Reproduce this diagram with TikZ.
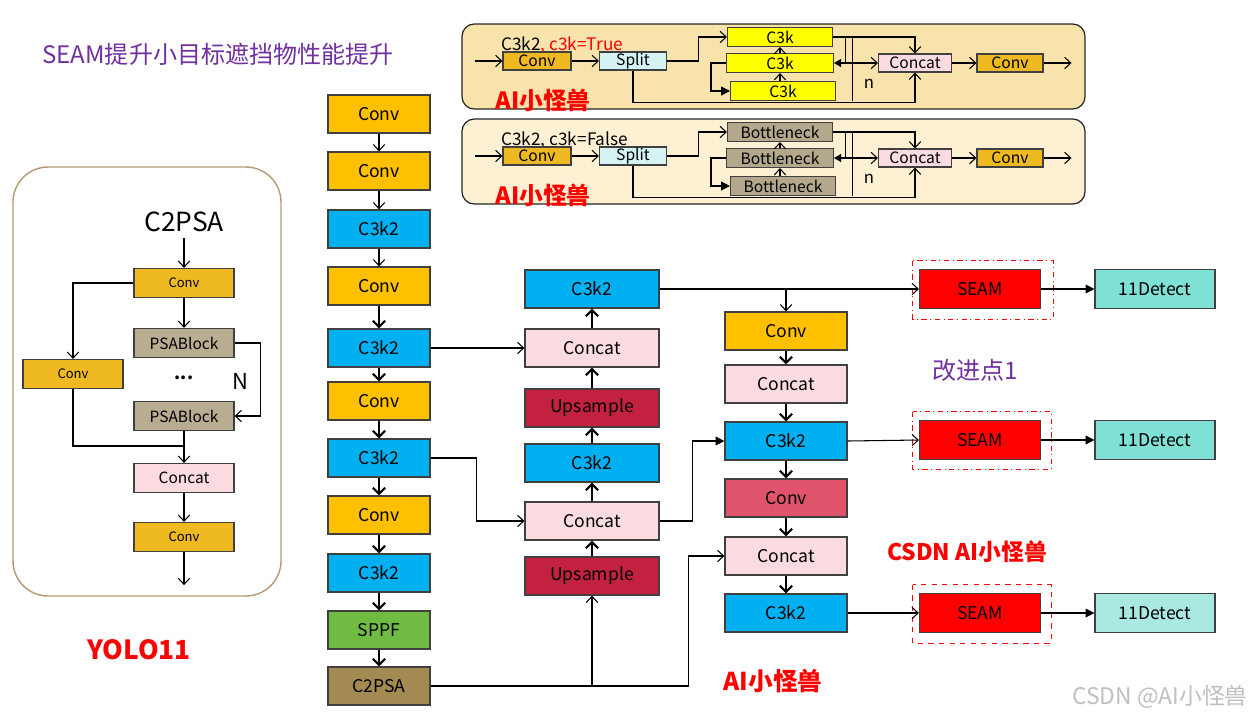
\documentclass[tikz,border=0pt]{standalone}
\usepackage{fontspec}
\setmainfont{Noto Sans CJK SC}
\usetikzlibrary{positioning,arrows.meta}

\definecolor{convc}{HTML}{FFC000}
\definecolor{lconvc}{HTML}{EEB921}
\definecolor{c3ktwoc}{HTML}{00B0F0}
\definecolor{catc}{HTML}{F9DBE0}
\definecolor{upc}{HTML}{C2213F}
\definecolor{sppfc}{HTML}{70BC43}
\definecolor{ctwopsac}{HTML}{A38A52}
\definecolor{rconvc}{HTML}{E0546B}
\definecolor{detc}{HTML}{7FE0D5}
\definecolor{detlc}{HTML}{A9E9E2}
\definecolor{splitc}{HTML}{D5F3F3}
\definecolor{psac}{HTML}{B8AD91}
\definecolor{bnc}{HTML}{B3A88B}
\definecolor{c3kc}{HTML}{FFFF00}
\definecolor{panac}{HTML}{F9E3AC}
\definecolor{panbc}{HTML}{FDF0D3}
\definecolor{purp}{HTML}{7030A0}
\definecolor{lpanc}{HTML}{B39B6F}
\definecolor{edgec}{HTML}{404040}

\begin{document}
\begin{tikzpicture}[x=0.02cm, y=-0.02cm,
  box/.style={draw=edgec, line width=0.7pt, inner sep=0pt, minimum height=0.76cm, font=\fontsize{10}{12}\selectfont},
  mainbox/.style={box, minimum width=2.04cm},
  midbox/.style={box, minimum width=2.68cm},
  rbox/.style={box, minimum width=2.44cm},
  headbox/.style={box, minimum width=2.42cm, minimum height=0.78cm},
  tbox/.style={draw=edgec, line width=0.6pt, inner sep=0pt, minimum height=0.36cm, font=\fontsize{8.9}{10}\selectfont},
  lbox/.style={draw=edgec, line width=0.7pt, inner sep=0pt, minimum width=2cm, minimum height=0.58cm, font=\fontsize{8.8}{10}\selectfont},
  thinarr/.style={line width=0.6pt, -{Straight Barb[length=3.5pt,width=6.5pt]}},
  thickarr/.style={line width=1.2pt, -{Straight Barb[length=3.5pt,width=7pt]}},
  fillarr/.style={line width=0.6pt, -{Triangle[length=5pt,width=5pt]}},
  seamframe/.style={draw=red, line width=0.6pt},
  redtag/.style={text=red, font=\bfseries\fontsize{13.5}{15}\selectfont}]

  \fill[white] (0,0) rectangle (1260,721);
  \useasboundingbox (0,0) rectangle (1260,721);

  % title and tags
  \node[text=purp, font=\fontsize{13.7}{15}\selectfont] (title) at (218,54) {SEAM提升小目标遮挡物性能提升};
  \node[text=purp, font=\fontsize{13.7}{15}\selectfont] (imp) at (975,370) {改进点1};
  \node[redtag, font=\bfseries\fontsize{13}{15}\selectfont] (csdn) at (967,552) {CSDN AI小怪兽};
  \node[redtag, font=\bfseries\fontsize{14}{16}\selectfont] (tagb) at (773,681) {AI小怪兽};
  \node[redtag, font=\bfseries\fontsize{15}{17}\selectfont] (yolo) at (139,650) {YOLO11};
  \node[text=black!25, font=\fontsize{13}{15}\selectfont] (wm) at (1160,697) {CSDN @AI小怪兽};

  % C3k2 panels
  \foreach \p/\dy/\blk/\blkc/\panc/\lab in {1/0/C3k/c3kc/panac/{C3k2\textcolor{red}{, c3k=True}}, 2/95/Bottleneck/bnc/panbc/{C3k2, c3k=False}}{
    \begin{scope}[yshift={-0.02cm*\dy}]
      \draw[fill=\panc, draw=black!85, line width=0.7pt, rounded corners=7pt] (462,24) rectangle (1085,109);
      \node[anchor=base west, inner sep=0pt, font=\fontsize{9.8}{11}\selectfont] (lab\p) at (501,50) {\lab};
      \node[tbox, fill=lconvc, minimum width=1.36cm] (ci\p) at (537,61) {Conv};
      \node[tbox, fill=splitc, minimum width=1.34cm] (sp\p) at (633,61) {Split};
      \node[tbox, fill=\blkc, minimum width=2.1cm, minimum height=0.38cm] (kt\p) at (780,37) {\blk};
      \node[tbox, fill=\blkc, minimum width=2.14cm, minimum height=0.38cm] (km\p) at (780,63) {\blk};
      \node[tbox, fill=\blkc, minimum width=2.1cm, minimum height=0.38cm] (kb\p) at (783,91) {\blk};
      \node[tbox, fill=catc, minimum width=1.46cm] (cc\p) at (915,63) {Concat};
      \node[tbox, fill=lconvc, minimum width=1.32cm] (co\p) at (1010,63) {Conv};
      \node[font=\fontsize{9.5}{10}\selectfont] (n\p) at (869,84) {n};
      \node[redtag] (tag\p) at (543,100) {AI小怪兽};

      \draw[thinarr] (ci\p.west) ++(-27,0) -- (ci\p.west);
      \draw[thinarr] (ci\p) -- (sp\p);
      \draw[thinarr] (sp\p.east) -- ++(31,0) |- (kt\p.west);
      \draw[thinarr] (km\p.south |- kb\p.north) -- (km\p.south);
      \draw[thinarr] (km\p.north) -- (kt\p.south);
      \draw[fillarr] (km\p.west) -- ++(-15,0) |- (kb\p.west);
      \draw[thinarr] (kt\p.east) -| (cc\p.north);
      \draw[line width=0.6pt] (kt\p.east) ++(12,0) -- ++(0,26);
      \draw[line width=0.6pt] (kt\p.east) ++(19,0) -- ++(0,64);
      \draw[line width=0.6pt, {Triangle[length=4pt,width=4.5pt]}-{Straight Barb[length=3.5pt,width=6.5pt]}] (km\p.east) -- (cc\p.west);
      \draw[thinarr] (sp\p.south) -- ++(0,32) -| (cc\p.south);
      \draw[thinarr] (cc\p) -- (co\p);
      \draw[thinarr] (co\p.east) -- ++(28,0);
    \end{scope}
  }

  % C2PSA panel
  \draw[draw=lpanc, line width=0.8pt, rounded corners=20pt] (13,167) rectangle (281,596);
  \node[font=\fontsize{15}{17}\selectfont] (pt) at (184,222) {C2PSA};
  \node[lbox, fill=lconvc, font=\fontsize{7.4}{9}\selectfont] (pc1) at (184,283) {Conv};
  \node[lbox, fill=psac] (pb1) at (184,343) {PSABlock};
  \node[lbox, fill=lconvc, font=\fontsize{7.4}{9}\selectfont] (pcl) at (73,374) {Conv};
  \node[font=\bfseries\fontsize{10}{12}\selectfont] (pdots) at (184,378) {...};
  \node[font=\fontsize{12.5}{14}\selectfont] (pn) at (240,381) {N};
  \node[lbox, fill=psac] (pb2) at (184,416) {PSABlock};
  \node[lbox, fill=catc] (pcat) at (184,478) {Concat};
  \node[lbox, fill=lconvc, font=\fontsize{7.4}{9}\selectfont] (pc2) at (184,537) {Conv};
  \coordinate (pj) at (184,446);

  \draw[thinarr] (pt.south) -- (pc1.north);
  \draw[thinarr] (pc1) -- (pb1);
  \draw[thinarr] (pc1.west) -| (pcl.north);
  \draw[thinarr] (pb1.east) -- ++(26,0) |- (pb2.east);
  \draw[line width=0.6pt] (pcl.south) |- (pj);
  \draw[thinarr] (pb2.south) -- (pcat.north);
  \draw[thinarr] (pcat) -- (pc2);
  \draw[thinarr] (pc2.south) -- ++(0,33);

  % backbone
  \node[mainbox, fill=convc] (b1) at (379,114) {Conv};
  \node[mainbox, fill=convc] (b2) at (379,171) {Conv};
  \node[mainbox, fill=c3ktwoc] (b3) at (379,229) {C3k2};
  \node[mainbox, fill=convc] (b4) at (379,286) {Conv};
  \node[mainbox, fill=c3ktwoc] (b5) at (379,348) {C3k2};
  \node[mainbox, fill=convc] (b6) at (379,401) {Conv};
  \node[mainbox, fill=c3ktwoc] (b7) at (379,458) {C3k2};
  \node[mainbox, fill=convc] (b8) at (379,515) {Conv};
  \node[mainbox, fill=c3ktwoc] (b9) at (379,573) {C3k2};
  \node[mainbox, fill=sppfc] (b10) at (379,630) {SPPF};
  \node[mainbox, fill=ctwopsac] (b11) at (379,686) {C2PSA};

  \draw[thinarr] (b1) -- (b2);
  \draw[thinarr] (b2) -- (b3);
  \draw[thinarr] (b3) -- (b4);
  \foreach \i/\j in {4/5,5/6,6/7,7/8,8/9,9/10,10/11}
    \draw[thickarr] (b\i) -- (b\j);

  % neck, up path
  \node[midbox, fill=c3ktwoc] (m1) at (592,289) {C3k2};
  \node[midbox, fill=catc] (m2) at (592,348) {Concat};
  \node[midbox, fill=upc] (m3) at (592,408) {Upsample};
  \node[midbox, fill=c3ktwoc] (m4) at (592,463) {C3k2};
  \node[midbox, fill=catc] (m5) at (592,521) {Concat};
  \node[midbox, fill=upc] (m6) at (592,576) {Upsample};

  \foreach \i/\j in {6/5,5/4,4/3,3/2,2/1}
    \draw[thickarr] (m\i) -- (m\j);

  % neck, down path
  \node[rbox, fill=convc] (r1) at (786,331) {Conv};
  \node[rbox, fill=catc] (r2) at (786,384) {Concat};
  \node[rbox, fill=c3ktwoc] (r3) at (786,441) {C3k2};
  \node[rbox, fill=rconvc] (r4) at (786,498) {Conv};
  \node[rbox, fill=catc] (r5) at (786,556) {Concat};
  \node[rbox, fill=c3ktwoc] (r6) at (786,613) {C3k2};

  \foreach \i/\j in {1/2,2/3,3/4,4/5,5/6}
    \draw[thickarr] (r\i) -- (r\j);

  % SEAM and heads
  \node[headbox, fill=red] (s1) at (980,289) {SEAM};
  \node[headbox, fill=red] (s2) at (980,440) {SEAM};
  \node[headbox, fill=red] (s3) at (980,613) {SEAM};
  \node[headbox, fill=detc, minimum width=2.4cm] (d1) at (1155,289) {11Detect};
  \node[headbox, fill=detc, minimum width=2.4cm] (d2) at (1155,440) {11Detect};
  \node[headbox, fill=detlc, minimum width=2.4cm] (d3) at (1155,613) {11Detect};

  \draw[seamframe, dash dot] (s1.north west) ++(-6,-8) rectangle ([shift={(0.24cm,-0.2cm)}]s1.south east);
  \draw[seamframe, dash dot] (s2.north west) ++(-6,-8) rectangle ([shift={(0.2cm,-0.18cm)}]s2.south east);
  \draw[seamframe, dashed] (s3.north west) ++(-6,-8) rectangle ([shift={(0.2cm,-0.2cm)}]s3.south east);

  % cross links
  \draw[thinarr] (b5.east) -- (m2.west);
  \draw[thinarr] (b7.east) -- ++(46,0) |- (m5.west);
  \draw[fillarr] (m5.east) -- ++(33,0) |- (r3.west);
  \draw[thinarr] (b11.east) -| (m6.south);
  \draw[thinarr] (b11.east) -- ++(258,0) |- (r5.west);
  \draw[thinarr] (m1.east) -- (s1.west);
  \draw[thinarr] (r1.north |- m1.east) -- (r1.north);
  \draw[thinarr] (r3.east) -- (s2.west);
  \draw[thinarr] (r6.east) -- (s3.west);
  \foreach \i in {1,2,3}
    \draw[fillarr] (s\i) -- (d\i);
\end{tikzpicture}
\end{document}
